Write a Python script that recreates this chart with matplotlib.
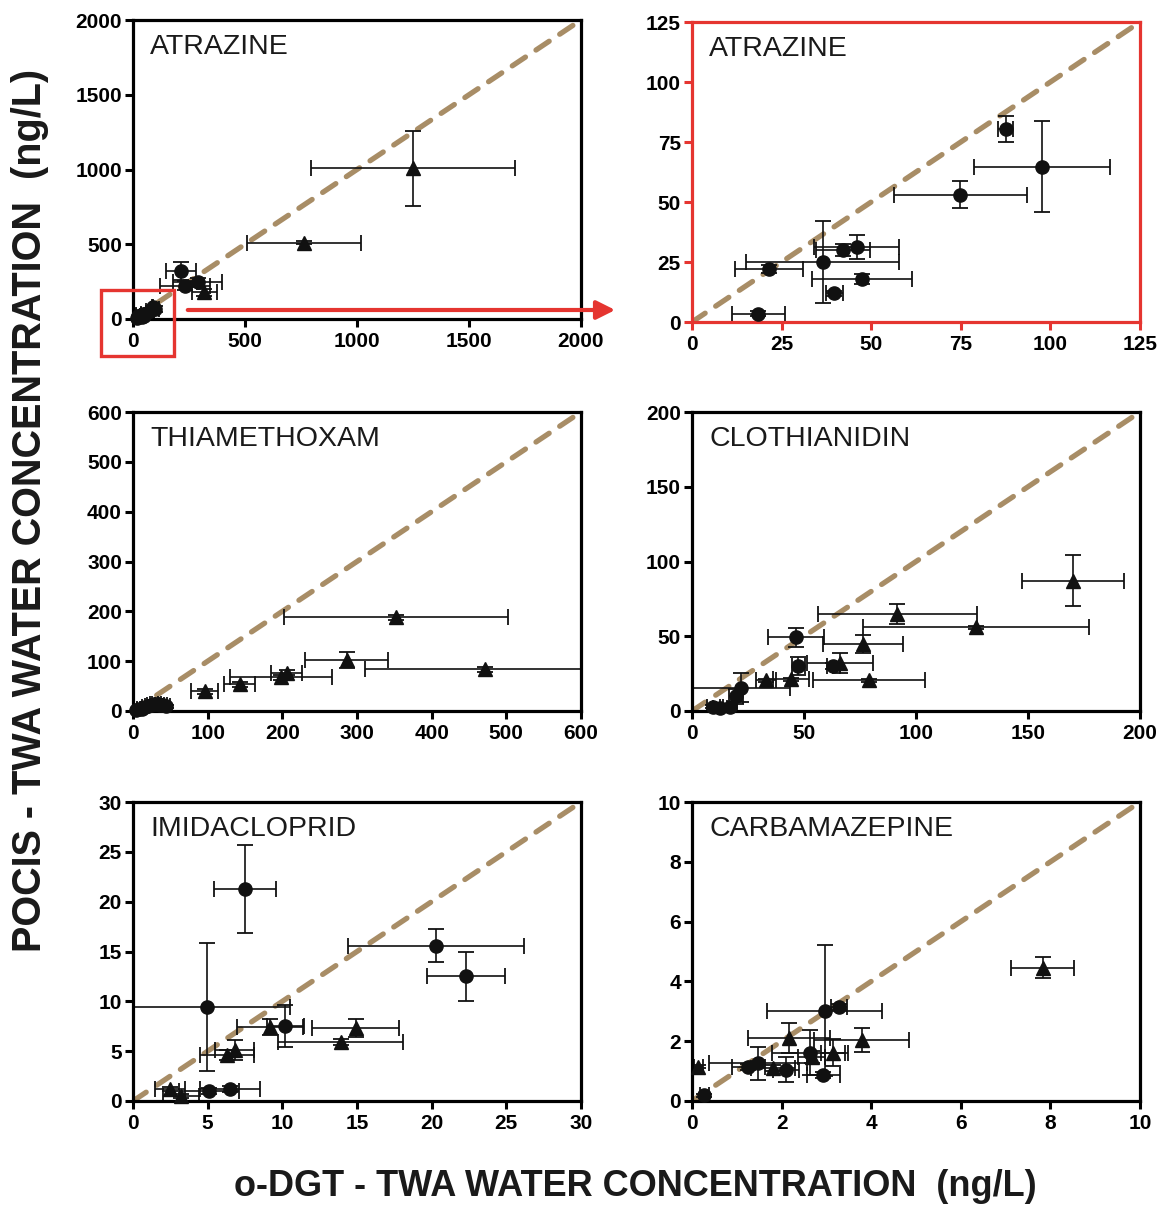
import matplotlib
matplotlib.use("Agg")
import matplotlib.pyplot as plt
from matplotlib.patches import Rectangle, FancyArrowPatch
import numpy as np

plt.rcParams['font.family'] = ['Liberation Sans', 'DejaVu Sans']
plt.rcParams['font.weight'] = 'bold'

# ---------------- data ----------------
# ATRAZINE (low range, circles)
atz_c_x = [87.5, 97.7, 74.9, 45.9, 42.2, 36.5, 21.4, 47.4, 39.7, 18.5]
atz_c_y = [80.4, 64.7, 53.1, 31.2, 30.1, 25.0, 22.1, 17.9, 11.9, 3.5]
atz_c_xerr = [2.2, 19.0, 18.5, 11.8, 7.5, 21.3, 9.5, 14.0, 2.3, 7.4]
atz_c_yerr = [5.5, 19.0, 5.6, 5.0, 2.4, 17.0, 1.5, 2.0, 1.2, 1.0]
# ATRAZINE (high range)
atz_hc_x = [214, 232, 289]
atz_hc_y = [323, 223, 245]
atz_hc_xerr = [67, 110, 110]
atz_hc_yerr = [60, 30, 30]
atz_t_x = [1250, 763, 318]
atz_t_y = [1008, 510, 178]
atz_t_xerr = [455, 253, 55]
atz_t_yerr = [250, 10, 25]

# THIAMETHOXAM
thi_t_x = [352, 286, 471, 206, 198, 143, 96]
thi_t_y = [188, 102, 84, 77, 68, 54, 40]
thi_t_xerr = [150, 55, 160, 21, 68, 21, 18]
thi_t_yerr = [5, 16, 5, 5, 5, 5, 5]
thi_c_x = [4, 8, 12, 16, 20, 24, 28, 32, 36, 40, 44]
thi_c_y = [2, 4, 5, 8, 10, 12, 14, 15, 13, 12, 10]
thi_c_xerr = [2, 3, 3, 4, 4, 5, 5, 6, 6, 5, 5]
thi_c_yerr = [1, 2, 2, 3, 3, 4, 4, 4, 3, 3, 3]

# CLOTHIANIDIN
clo_t_x = [170, 91.7, 126.8, 76.2, 66, 79.2, 44.3, 33]
clo_t_y = [87.2, 64.9, 56, 44.8, 32, 20.7, 21.2, 20.7]
clo_t_xerr = [22.7, 35.5, 50.6, 17.9, 14.8, 25, 8, 4.5]
clo_t_yerr = [17, 7, 1, 6, 6.7, 1, 1, 1]
clo_c_x = [46.4, 47.5, 63.1, 21.9, 19.6, 9.5, 12.5, 17]
clo_c_y = [49.3, 30.1, 30.3, 15.6, 10, 3, 2, 3]
clo_c_xerr = [12.4, 3, 3, 22, 3, 3, 3, 3]
clo_c_yerr = [6.5, 5.8, 2, 9.6, 5, 1, 1, 1]

# IMIDACLOPRID
imi_c_x = [7.5, 20.3, 22.3, 4.93, 10.2, 5.1, 6.5]
imi_c_y = [21.3, 15.6, 12.5, 9.46, 7.5, 1.0, 1.23]
imi_c_xerr = [2.1, 5.9, 2.6, 5.6, 1.23, 2.0, 2.0]
imi_c_yerr = [4.4, 1.7, 2.5, 6.4, 2.1, 0.3, 0.3]
imi_t_x = [9.18, 14.9, 13.9, 6.8, 6.3, 2.5, 3.2]
imi_t_y = [7.47, 7.3, 5.95, 5.1, 4.6, 1.2, 0.5]
imi_t_xerr = [2.23, 2.9, 4.2, 1.3, 1.8, 1.0, 1.2]
imi_t_yerr = [0.8, 0.9, 0.3, 1.0, 0.5, 0.2, 0.2]

# CARBAMAZEPINE
car_t_x = [7.83, 2.16, 3.79, 3.15, 2.67, 1.81, 0.14]
car_t_y = [4.46, 2.12, 2.04, 1.62, 1.48, 1.11, 1.15]
car_t_xerr = [0.7, 0.92, 1.06, 0.27, 0.3, 0.5, 0.1]
car_t_yerr = [0.35, 0.5, 0.4, 0.45, 0.2, 0.1, 0.05]
car_c_x = [2.96, 3.28, 2.63, 2.93, 1.47, 1.26, 2.09, 0.27]
car_c_y = [3.02, 3.15, 1.62, 0.87, 1.26, 1.15, 1.04, 0.2]
car_c_xerr = [1.28, 0.17, 0.85, 0.37, 1.1, 0.37, 0.29, 0.1]
car_c_yerr = [2.2, 0.1, 0.75, 0.1, 0.55, 0.1, 0.42, 0.05]

panels = [
    # name, limit, tick step, circle set, triangle set, position px (l, t, r, b), frame colour
    ("ATRAZINE", 2000, 500,
     (atz_c_x + atz_hc_x, atz_c_y + atz_hc_y, atz_c_xerr + atz_hc_xerr, atz_c_yerr + atz_hc_yerr),
     (atz_t_x, atz_t_y, atz_t_xerr, atz_t_yerr), (133, 20, 581, 319), "black"),
    ("ATRAZINE", 125, 25,
     (atz_c_x, atz_c_y, atz_c_xerr, atz_c_yerr), None, (692, 22, 1140, 322), "#E53530"),
    ("THIAMETHOXAM", 600, 100,
     (thi_c_x, thi_c_y, thi_c_xerr, thi_c_yerr),
     (thi_t_x, thi_t_y, thi_t_xerr, thi_t_yerr), (133, 412, 581, 711), "black"),
    ("CLOTHIANIDIN", 200, 50,
     (clo_c_x, clo_c_y, clo_c_xerr, clo_c_yerr),
     (clo_t_x, clo_t_y, clo_t_xerr, clo_t_yerr), (692, 412, 1140, 711), "black"),
    ("IMIDACLOPRID", 30, 5,
     (imi_c_x, imi_c_y, imi_c_xerr, imi_c_yerr),
     (imi_t_x, imi_t_y, imi_t_xerr, imi_t_yerr), (133, 802, 581, 1101), "black"),
    ("CARBAMAZEPINE", 10, 2,
     (car_c_x, car_c_y, car_c_xerr, car_c_yerr),
     (car_t_x, car_t_y, car_t_xerr, car_t_yerr), (692, 802, 1140, 1101), "black"),
]

W, H = 1161, 1207
fig = plt.figure(figsize=(W / 100, H / 100), dpi=100)
RED = "#E53530"
DASH = "#A88D66"
INK = "#111111"


def draw_set(ax, data, marker):
    if data is None:
        return
    x, y, xe, ye = data
    ax.errorbar(x, y, xerr=xe, yerr=ye, fmt='none', ecolor=INK,
                elinewidth=1.2, capsize=6, capthick=1.3, zorder=2)
    ax.plot(x, y, linestyle='none', marker=marker, ms=9.5, color=INK,
            mec=INK, zorder=3, clip_on=False)


for name, lim, step, circ, tri, (l, t, r, b), frame in panels:
    ax = fig.add_axes([l / W, 1 - b / H, (r - l) / W, (b - t) / H])
    ax.set_xlim(0, lim)
    ax.set_ylim(0, lim)
    ticks = np.arange(0, lim + step / 2, step)
    ax.set_xticks(ticks)
    ax.set_yticks(ticks)
    ax.set_xticklabels([f"{v:g}" for v in ticks])
    ax.set_yticklabels([f"{v:g}" for v in ticks])
    for sp in ax.spines.values():
        sp.set_linewidth(2.3)
        sp.set_color(frame)
    ax.tick_params(direction='out', length=5.5, width=2.2, color=frame,
                   labelsize=15, pad=2.5, top=False, right=False)
    ax.tick_params(axis='x', pad=4)
    ax.plot([0, lim], [0, lim], color=DASH, lw=3.8, dashes=(3.0, 2.4),
            dash_capstyle='round', zorder=1)
    draw_set(ax, circ, 'o')
    draw_set(ax, tri, '^')
    ax.text(0.038, 0.952, name, transform=ax.transAxes, ha='left', va='top',
            fontsize=20.5, fontweight='normal', color='#1a1a1a')

# zoom-box callout from the full-range atrazine panel to its close-up
fig.add_artist(Rectangle((101 / W, 1 - 356 / H), 73 / W, 66 / H,
                         transform=fig.transFigure, fill=False,
                         edgecolor=RED, lw=2.4, zorder=10))
fig.add_artist(FancyArrowPatch((185 / W, 1 - 310 / H), (618 / W, 1 - 310 / H),
                               transform=fig.transFigure, arrowstyle='-|>',
                               mutation_scale=28, color=RED, lw=3, zorder=10))

fig.text(635 / W, 1 - 1187 / H, "o-DGT - TWA WATER CONCENTRATION  (ng/L)",
         ha='center', va='center', fontsize=26, fontweight='bold', color='#1a1a1a')
fig.text(30 / W, 1 - 510 / H, "POCIS - TWA WATER CONCENTRATION  (ng/L)",
         ha='center', va='center', rotation=90, fontsize=28.5, fontweight='bold',
         color='#1a1a1a')

fig.savefig("out.png", dpi=100, facecolor='white')
